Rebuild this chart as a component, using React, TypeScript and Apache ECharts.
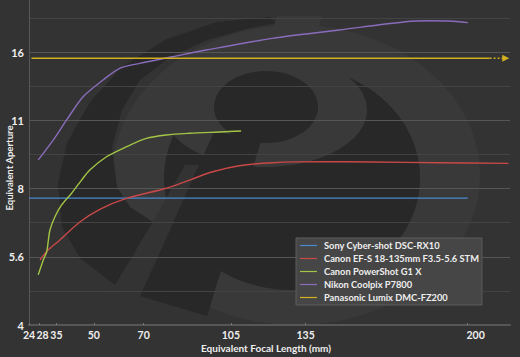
import React, { useEffect, useRef } from 'react';
import * as echarts from 'echarts';

// ---- Data (equivalent focal length in mm, equivalent aperture as f-number) ----
const focalTicks = [24, 28, 35, 50, 70, 105, 135, 200];
const apertureStops = [4, 5, 6, 7, 8];
const apertureLabels = ['4', '5.6', '8', '11', '16'];

const seriesNames = [
  'Sony Cyber-shot DSC-RX10',
  'Canon EF-S 18-135mm F3.5-5.6 STM',
  'Canon PowerShot G1 X',
  'Nikon Coolpix P7800',
  'Panasonic Lumix DMC-FZ200',
];
const seriesColors = ['#4a88d0', '#c94848', '#a3c545', '#8a6cbd', '#d2b020'];

const sonyFocal = [24, 200];
const sonyAperture = [7.62, 7.62];

const canonEfsFocal = [28.4, 31.2, 36.4, 44.4, 52.4, 63.1, 79.1, 88.4, 97.7, 108.4, 121.7, 141.7, 161.7, 188.4, 216.4];
const canonEfsAperture = [5.56, 5.82, 6.16, 6.75, 7.2, 7.61, 8.01, 8.35, 8.71, 8.98, 9.12, 9.17, 9.15, 9.12, 9.09];

const g1xFocal = [27.7, 29.7, 31.1, 31.7, 32.4, 34.4, 37.1, 41.1, 45.1, 48.4, 55.1, 63.1, 71.1, 79.1, 88.4, 100.4, 109.1];
const g1xAperture = [5.16, 5.56, 5.8, 6.11, 6.48, 6.93, 7.36, 7.81, 8.35, 8.79, 9.4, 9.89, 10.32, 10.5, 10.59, 10.66, 10.71];

const p7800Focal = [27.7, 33.7, 39.1, 45.7, 53.7, 60.4, 68.4, 81.7, 95.1, 121.7, 148.4, 175.1, 184.4, 192.4, 200.1];
const p7800Aperture = [9.25, 10.23, 11.33, 12.75, 13.88, 14.73, 15.1, 15.62, 16.16, 17.15, 17.89, 18.66, 18.75, 18.73, 18.57];

const fz200Focal = [25, 208.8];
const fz200Aperture = [15.5, 15.5];
const fz200ExtFocal = [208.8, 215.3];
const fz200ExtAperture = [15.5, 15.5];

// ---- helpers ----
const toStop = (f: number) => 2 * Math.log2(f);
const pairs = (xs: number[], ys: number[]) => xs.map((x, i) => [x, toStop(ys[i])]);

const BG = '#333333';
const DARK = '#282828';
const LIGHT = '#393939';
const FONT = 'Lato, "DejaVu Sans", sans-serif';
const MAJOR = '#565656';
const MINOR = '#434343';

function buildOption() {
  const lineSeries = (i: number, xs: number[], ys: number[]) => ({
    name: seriesNames[i],
    type: 'line',
    data: pairs(xs, ys),
    smooth: 0.3,
    showSymbol: false,
    symbol: 'none',
    color: seriesColors[i],
    lineStyle: { width: 1.4, color: seriesColors[i] },
    z: 3,
  });

  const extData = pairs(fz200ExtFocal, fz200ExtAperture).map((p, i) => ({
    value: p,
    symbol: i === 1 ? 'triangle' : 'none',
    symbolSize: 7,
    symbolRotate: -90,
  }));

  const labelStyle = { color: '#eeeeee', fontSize: 11, fontWeight: 'bold', fontFamily: FONT };
  const xLabelStyle = { ...labelStyle, fontSize: 10.5 };
  const primaryTicks = focalTicks.filter((v) => v !== 28);
  const secondaryTicks = focalTicks.filter((v) => v === 28);

  return {
    animation: false,
    backgroundColor: BG,
    textStyle: { fontFamily: FONT },
    grid: { left: 29, right: 10, top: 0, bottom: 32, containLabel: false },
    graphic: [
      { type: 'ellipse', z: -10, shape: { cx: 296, cy: 175, rx: 184, ry: 150 }, style: { fill: LIGHT } },
      {
        type: 'polygon', z: -9,
        shape: {
          points: [
            [270, 17], [217, 22], [167, 39], [123, 66], [90, 102], [67, 143], [58, 183], [62, 227], [80, 258], [115, 285],
            [153, 222], [130, 207], [117, 187], [112, 147], [122, 110], [140, 80], [170, 57], [207, 40], [250, 28], [277, 23],
          ],
        },
        style: { fill: DARK },
      },
      { type: 'ellipse', z: -8, shape: { cx: 292, cy: 178, rx: 128, ry: 112 }, style: { fill: DARK } },
      { type: 'ellipse', z: -7, shape: { cx: 265, cy: 110, rx: 102, ry: 57 }, style: { fill: LIGHT } },
      { type: 'ellipse', z: -6, shape: { cx: 266, cy: 107, rx: 52, ry: 36 }, style: { fill: DARK } },
      { type: 'polygon', z: -6, shape: { points: [[277, 16], [322, 16], [306, 70], [262, 70]] }, style: { fill: LIGHT } },
      { type: 'polygon', z: -5, shape: { points: [[214, 132], [262, 138], [207, 316], [140, 296]] }, style: { fill: DARK } },
      { type: 'polygon', z: -5, shape: { points: [[185, 165], [199, 165], [136, 305], [106, 305]] }, style: { fill: BG } },
      {
        type: 'text', z: 10,
        x: 266, y: 348,
        style: {
          text: 'Equivalent Focal Length (mm)', fill: '#eeeeee',
          font: 'bold 10px ' + FONT, textAlign: 'center', textVerticalAlign: 'middle',
        },
      },
      {
        type: 'text', z: 10,
        x: 9, y: 168, rotation: Math.PI / 2,
        style: {
          text: 'Equivalent Aperture', fill: '#eeeeee',
          font: 'bold 9.6px ' + FONT, textAlign: 'center', textVerticalAlign: 'middle',
        },
      },
    ],
    legend: {
      data: seriesNames,
      orient: 'vertical',
      left: 296,
      top: 238,
      padding: [3, 3, 3, 4],
      itemGap: 4,
      itemWidth: 17,
      itemHeight: 10,
      backgroundColor: '#464646',
      borderColor: '#5c5c5c',
      borderWidth: 1,
      borderRadius: 0,
      icon: 'path://M0,4.5 L17,4.5 L17,5.7 L0,5.7 Z',
      textStyle: { color: '#eeeeee', fontSize: 9.3, fontWeight: 'bold', fontFamily: FONT, padding: [0, 0, 0, 2] },
    },
    xAxis: [
      {
        type: 'value',
        min: 24,
        max: 217,
        splitLine: { show: false },
        axisLine: { show: true, lineStyle: { color: '#575757', width: 2 } },
        axisTick: { show: true, length: 2, inside: true, customValues: focalTicks, lineStyle: { color: '#777' } },
        axisLabel: {
          ...xLabelStyle,
          customValues: primaryTicks,
          showMinLabel: true,
          showMaxLabel: true,
          margin: 4,
          formatter: (v: number) => (v === 200 ? '{r|200}' : String(v)),
          rich: { r: { ...xLabelStyle, padding: [0, 0, 0, 16] } },
        },
      },
      {
        type: 'value',
        position: 'bottom',
        min: 24,
        max: 217,
        splitLine: { show: false },
        axisLine: { show: false },
        axisTick: { show: false },
        axisLabel: {
          ...xLabelStyle,
          customValues: secondaryTicks,
          margin: 4,
          formatter: (v: number) => '{r|' + v + '}',
          rich: { r: { ...xLabelStyle, padding: [0, 0, 0, 7] } },
        },
      },
    ],
    yAxis: {
      type: 'value',
      min: 4,
      max: 8.762,
      interval: 0.5,
      axisLine: { show: true, lineStyle: { color: '#575757', width: 1 } },
      axisTick: { show: false },
      splitLine: {
        show: true,
        lineStyle: { color: [MAJOR, MINOR, MAJOR, MINOR, MAJOR, MINOR, MAJOR, MINOR, MAJOR, MINOR, 'rgba(0,0,0,0)'], width: 1 },
      },
      axisLabel: {
        ...labelStyle,
        margin: 5,
        formatter: (v: number) => {
          const idx = apertureStops.findIndex((s) => Math.abs(s - v) < 1e-6);
          return idx >= 0 ? apertureLabels[idx] : '';
        },
      },
    },
    series: [
      lineSeries(0, sonyFocal, sonyAperture),
      lineSeries(1, canonEfsFocal, canonEfsAperture),
      lineSeries(2, g1xFocal, g1xAperture),
      lineSeries(3, p7800Focal, p7800Aperture),
      lineSeries(4, fz200Focal, fz200Aperture),
      {
        name: 'fz200-extension',
        type: 'line',
        data: extData,
        color: seriesColors[4],
        lineStyle: { width: 1.6, color: seriesColors[4], type: [2, 2] },
        itemStyle: { color: seriesColors[4] },
        z: 3,
      },
    ],
  };
}

export default function App() {
  const ref = useRef<HTMLDivElement>(null);
  useEffect(() => {
    if (!ref.current) return;
    const chart = echarts.init(ref.current, null, { renderer: 'svg' });
    chart.setOption(buildOption() as any);
    return () => chart.dispose();
  }, []);
  return <div ref={ref} style={{ position: 'fixed', left: 0, top: 0, width: 520, height: 357 }} />;
}
